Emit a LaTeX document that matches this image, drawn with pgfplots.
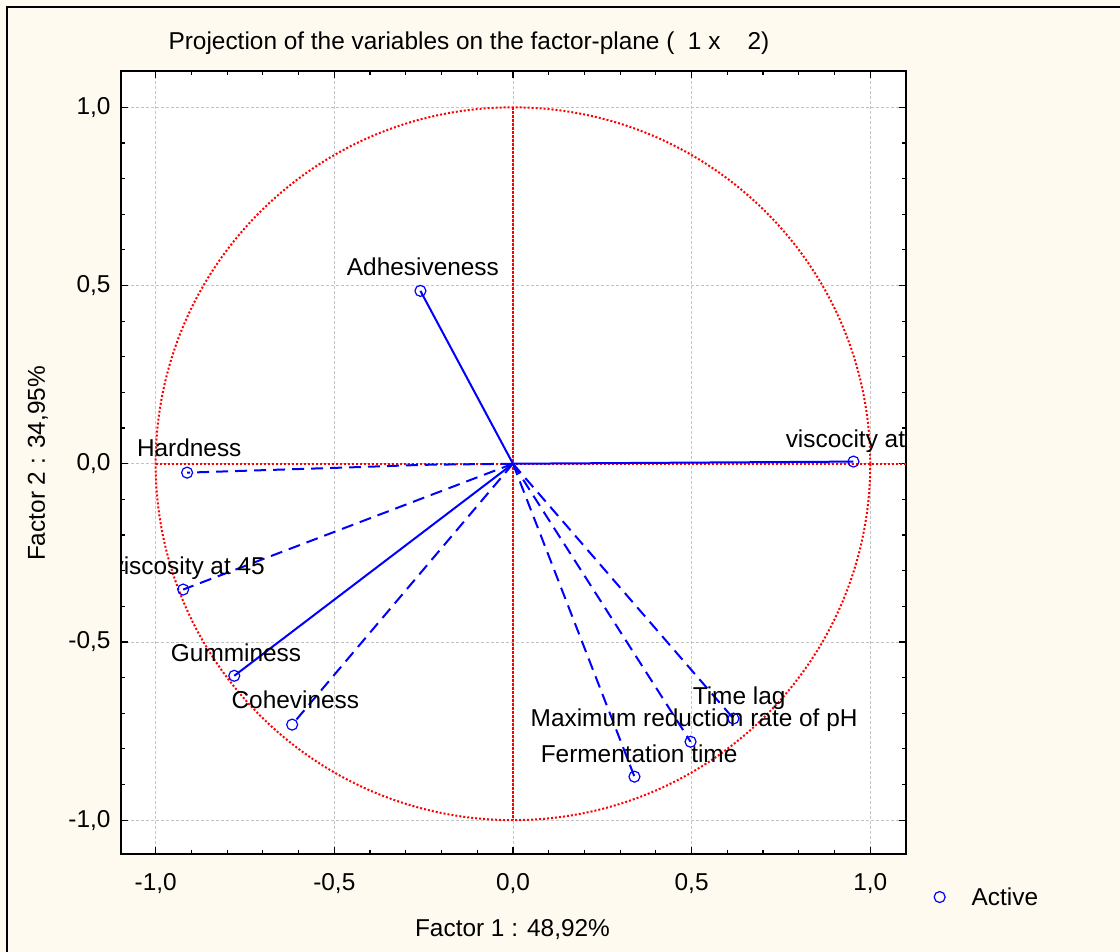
\documentclass[border=0pt]{standalone}
\usepackage{pgfplots}
\pgfplotsset{compat=1.18}
\usepackage{fontspec}
\setmainfont{Liberation Sans}
\definecolor{bgc}{HTML}{FEFAF0}
\definecolor{gridc}{HTML}{C4C4C4}
\pgfplotsset{activeleg/.style={legend image code/.code={\path[draw=none,fill=none] (-6pt,-6pt) rectangle (30pt,6pt); \draw[##1] plot coordinates {(0pt,0pt)};}}}
\begin{document}
\begin{tikzpicture}[x=1pt,y=1pt,font=\fontsize{24.4}{29}\selectfont]
\useasboundingbox (0,0) rectangle (1120,952);
\fill[bgc] (0,0) rectangle (1120,952);
\draw[line width=2pt] (7,0) -- (7,945) -- (1120,945);
\begin{axis}[
  at={(121pt,98pt)}, anchor=south west,
  scale only axis, width=785pt, height=783pt,
  xmin=-1.097, xmax=1.1, ymin=-1.095, ymax=1.102,
  axis background/.style={fill=white},
  axis line style={line width=1.6pt},
  xtick={-1,-0.5,0,0.5,1}, ytick={-1,-0.5,0,0.5,1},
  minor x tick num=4, minor y tick num=4,
  tick align=inside, tick pos=both,
  major tick length=7pt, minor tick length=4pt,
  every tick/.style={black, line width=1.2pt},
  grid=major,
  major grid style={gridc, dash pattern=on 3pt off 2pt, line width=0.8pt},
  /pgf/number format/.cd, use comma, fixed, fixed zerofill, precision=1, assume math mode=true,
  /pgfplots/.cd,
  xticklabel style={yshift=-16pt},
  yticklabel style={xshift=-7pt},
  legend style={at={(1.035,-0.055)}, anchor=west, draw=none, fill=none, inner sep=0pt},
  legend cell align=left,
]
% reference lines
\addplot[forget plot, red, line width=2pt, dash pattern=on 2pt off 2pt] coordinates {(-1,0) (1.2,0)};
\addplot[forget plot, red, line width=2pt, dash pattern=on 3pt off 1pt] coordinates {(0,1) (0,-1)};
\draw[red, line width=2pt, dash pattern=on 2pt off 2pt] (axis cs:0,0) ellipse [x radius=1, y radius=1];
% vectors
\addplot[forget plot, blue, line width=2pt] coordinates {(0,0) (0.953,0.006)};
\addplot[forget plot, blue, line width=2pt] coordinates {(0,0) (-0.259,0.485)};
\addplot[forget plot, blue, line width=2pt] coordinates {(0,0) (-0.780,-0.595)};
\addplot[forget plot, blue, line width=2pt, dash pattern=on 12pt off 7pt] coordinates {(0,0) (-0.25,-0.003) (-0.45,-0.010) (-0.912,-0.025)};
\addplot[forget plot, blue, line width=2pt, dash pattern=on 12pt off 7pt] coordinates {(0,0) (-0.923,-0.353)};
\addplot[forget plot, blue, line width=2pt, dash pattern=on 12pt off 7pt] coordinates {(0,0) (-0.618,-0.732)};
\addplot[forget plot, blue, line width=2pt, dash pattern=on 12pt off 7pt] coordinates {(0,0) (0.617,-0.715)};
\addplot[forget plot, blue, line width=2pt, dash pattern=on 12pt off 7pt] coordinates {(0,0) (0.497,-0.780)};
\addplot[forget plot, blue, line width=2pt, dash pattern=on 12pt off 7pt] coordinates {(0,0) (0.340,-0.878)};
% points
\addplot[only marks, mark=o, mark size=5.5pt, mark options={draw=blue, line width=1.2pt, fill=none, solid}, activeleg] coordinates {
(0.953,0.006) (-0.259,0.485) (-0.912,-0.025) (-0.923,-0.353) (-0.780,-0.595)
(-0.618,-0.732) (0.617,-0.715) (0.497,-0.780) (0.340,-0.878)};
\addlegendentry{Active}
% labels
\node[anchor=base] at (axis cs:-0.252,0.527) {Adhesiveness};
\node[anchor=base] at (axis cs:-0.906,0.0196) {Hardness};
\node[anchor=base east, inner sep=0pt] at (axis cs:-0.694,-0.311) {viscosity at 45};
\node[anchor=base] at (axis cs:-0.775,-0.555) {Gumminess};
\node[anchor=base] at (axis cs:-0.609,-0.687) {Coheviness};
\node[anchor=base] at (axis cs:0.633,-0.676) {Time lag};
\node[anchor=base] at (axis cs:0.507,-0.738) {Maximum reduction rate of pH};
\node[anchor=base] at (axis cs:0.353,-0.838) {Fermentation time};
\node[anchor=base west, inner sep=0pt] at (axis cs:0.763,0.046) {viscocity at};
\end{axis}
\node[anchor=base] at (469,902) {Projection of the variables on the factor-plane (\ \ 1 x \ \ \ 2)};
\node[anchor=base] at (512.5,15) {Factor 1 : 48,92\%};
\node[anchor=base, rotate=90] at (45,488.5) {Factor 2 : 34,95\%};
\end{tikzpicture}
\end{document}
